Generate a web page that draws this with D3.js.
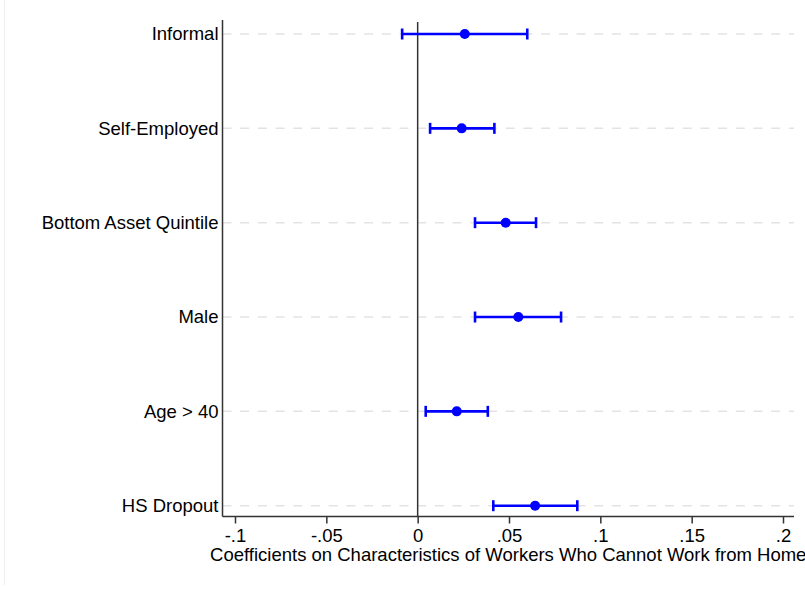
<!DOCTYPE html>
<html><head><meta charset="utf-8">
<script src="https://cdn.jsdelivr.net/npm/d3@7"></script>
<style>body{margin:0;background:#fff}svg{display:block}text{font-family:"Liberation Sans",Arial,sans-serif}</style>
</head><body><svg id="c" width="805" height="589"></svg>
<script>
const categories = ["Informal","Self-Employed","Bottom Asset Quintile","Male","Age > 40","HS Dropout"];
const estimates = [0.0258,0.0241,0.0482,0.0551,0.0214,0.0643];
const lower = [-0.0085,0.0068,0.0314,0.0314,0.0044,0.0414];
const upper = [0.0600,0.0420,0.0648,0.0785,0.0384,0.0874];
const xTicks = [-0.1,-0.05,0,0.05,0.1,0.15,0.2];
const xTickLabels = ["-.1","-.05","0",".05",".1",".15",".2"];
const xTitle = "Coefficients on Characteristics of Workers Who Cannot Work from Home";

(function(){
const svg = d3.select("#c");
const pL = 222.5, pR = 794, pT = 20, pB = 516.5;
const fs = 18.5;
const x = d3.scaleLinear().domain([-0.1,0.2]).range([235,783]);
const y = d3.scalePoint().domain(categories).range([34,505.7]);
const blue = "#0000ff";

svg.append("line").attr("x1",4.5).attr("x2",4.5).attr("y1",0).attr("y2",585).attr("stroke","#eeeeee");

svg.append("g").selectAll("line").data(categories).join("line")
  .attr("x1",pL).attr("x2",pR).attr("y1",d=>y(d)).attr("y2",d=>y(d))
  .attr("stroke","#e3e3e3").attr("stroke-width",1.5).attr("stroke-dasharray","9,8.7");

svg.append("line").attr("x1",x(0)).attr("x2",x(0)).attr("y1",pT+2).attr("y2",pB)
  .attr("stroke","#333").attr("stroke-width",1.5);

const xa = d3.axisBottom(x).tickValues(xTicks).tickFormat((d,i)=>xTickLabels[i]).tickSize(7).tickPadding(0);
const gx = svg.append("g").attr("transform",`translate(0,${pB})`).call(xa);
gx.select(".domain").remove();
gx.append("line").attr("x1",pL).attr("x2",pR).attr("stroke","#333").attr("stroke-width",1.5);
gx.selectAll(".tick line").attr("stroke","#333").attr("stroke-width",1.5);
gx.selectAll(".tick text").attr("fill","#000").attr("font-size",fs).attr("dy",null).attr("y",25)
  .style("font-family","'Liberation Sans',Arial,sans-serif");

const ya = d3.axisLeft(y).tickSize(0).tickPadding(4);
const gy = svg.append("g").attr("transform",`translate(${pL},0)`).call(ya);
gy.select(".domain").remove();
gy.append("line").attr("y1",pT).attr("y2",pB).attr("stroke","#333").attr("stroke-width",1.5);
gy.selectAll(".tick text").attr("fill","#000").attr("font-size",fs).style("font-family","'Liberation Sans',Arial,sans-serif");

svg.append("text").attr("x",(pL+pR)/2).attr("y",561).attr("text-anchor","middle")
  .attr("font-size",fs).attr("fill","#000").text(xTitle);

const g = svg.append("g");
const rows = categories.map((c,i)=>({c,e:estimates[i],lo:lower[i],hi:upper[i]}));
g.selectAll(".bar").data(rows).join("line")
  .attr("x1",d=>x(d.lo)).attr("x2",d=>x(d.hi)).attr("y1",d=>y(d.c)).attr("y2",d=>y(d.c))
  .attr("stroke",blue).attr("stroke-width",2.6);
g.selectAll(".capl").data(rows).join("line")
  .attr("x1",d=>x(d.lo)).attr("x2",d=>x(d.lo)).attr("y1",d=>y(d.c)-5.5).attr("y2",d=>y(d.c)+5.5)
  .attr("stroke",blue).attr("stroke-width",2.6);
g.selectAll(".capr").data(rows).join("line")
  .attr("x1",d=>x(d.hi)).attr("x2",d=>x(d.hi)).attr("y1",d=>y(d.c)-5.5).attr("y2",d=>y(d.c)+5.5)
  .attr("stroke",blue).attr("stroke-width",2.6);
g.selectAll("circle").data(rows).join("circle")
  .attr("cx",d=>x(d.e)).attr("cy",d=>y(d.c)).attr("r",5).attr("fill",blue);
})();
</script></body></html>
